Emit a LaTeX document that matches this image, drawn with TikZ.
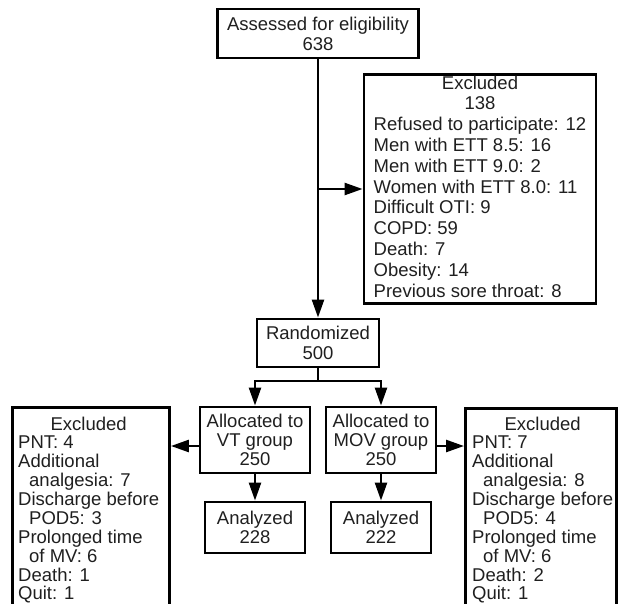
\documentclass[tikz,border=0pt]{standalone}
\usepackage{fontspec}
\setmainfont{Liberation Sans}
\usetikzlibrary{arrows.meta,calc}
\definecolor{txt}{gray}{0.12}
\begin{document}
\begin{tikzpicture}[x=1pt,y=-1pt,
  box/.style={draw, line width=2.9pt, inner sep=0pt, text=txt,
    font=\fontsize{18.5}{19}\selectfont, align=center},
  frame/.style={draw, line width=2.9pt, inner sep=0pt},
  sidetext/.style={inner sep=0pt, anchor=base west, text=txt,
    font=\fontsize{18.5}{18.45}\selectfont},
  conn/.style={line width=2.5pt},
  arr/.style={conn, -{Triangle[length=18pt,width=12pt]}},
]
\useasboundingbox (0,0) rectangle (619,603);

\node[box, minimum width=201pt, minimum height=49pt,
  font=\fontsize{18.5}{20}\selectfont] (assess) at (318,33.5)
  {Assessed for eligibility\\638};

\node[box, minimum width=232pt, minimum height=222pt,
  font=\fontsize{18.5}{20.8}\selectfont] (excl1) at (480,189)
  {\begin{tabular}{@{}l@{}}
   \multicolumn{1}{@{}c@{}}{Excluded}\\
   \multicolumn{1}{@{}c@{}}{138}\\
   Refused to participate: 12\\
   Men with ETT 8.5: 16\\
   Men with ETT 9.0: 2\\
   Women with ETT 8.0: 11\\
   Difficult OTI: 9\\
   COPD: 59\\
   Death: 7\\
   Obesity: 14\\
   Previous sore throat: 8
   \end{tabular}};

\node[box, minimum width=122pt, minimum height=48pt,
  font=\fontsize{18.5}{20}\selectfont] (rand) at (318,343) {Randomized\\500};

\node[box, minimum width=110pt, minimum height=66pt] (vt) at (255,440)
  {Allocated to\\VT group\\250};
\node[box, minimum width=110pt, minimum height=66pt] (mov) at (381,440)
  {Allocated to\\MOV group\\250};

\node[box, minimum width=100pt, minimum height=51pt] (an1) at (255,527.5)
  {Analyzed\\228};
\node[box, minimum width=100pt, minimum height=51pt] (an2) at (381,527.5)
  {Analyzed\\222};

\node[frame, anchor=north west, minimum width=157pt, minimum height=230pt]
  (exL) at (11,406) {};
\node[frame, anchor=north west, minimum width=151pt, minimum height=230pt]
  (exR) at (464,407) {};

\node[sidetext] (exLt) at (18,430.5)
  {\begin{tabular}[t]{@{}l@{}}
   \multicolumn{1}{@{}c@{}}{Excluded}\\
   PNT: 4\\
   Additional\\
   \hspace*{11pt}analgesia: 7\\
   Discharge before\\
   \hspace*{11pt}POD5: 3\\
   Prolonged time\\
   \hspace*{11pt}of MV: 6\\
   Death: 1\\
   Quit: 1
   \end{tabular}};
\node[sidetext] (exRt) at (472,430.5)
  {\begin{tabular}[t]{@{}l@{}}
   \multicolumn{1}{@{}c@{}}{Excluded}\\
   PNT: 7\\
   Additional\\
   \hspace*{11pt}analgesia: 8\\
   Discharge before\\
   \hspace*{11pt}POD5: 4\\
   Prolonged time\\
   \hspace*{11pt}of MV: 6\\
   Death: 2\\
   Quit: 1
   \end{tabular}};

\coordinate (split) at (318,381);
\draw[arr] (assess.south) -- (rand.north);
\draw[arr] (assess.south |- excl1.west) -- (excl1.west);
\draw[conn] (rand.south) -- (split);
\draw[arr] (split) -| (vt.north);
\draw[arr] (split) -| (mov.north);
\draw[arr] (vt.south) -- (an1.north);
\draw[arr] (mov.south) -- (an2.north);
\draw[arr] ([yshift=-6pt]vt.west) -- ([yshift=-6pt]vt.west -| exL.east);
\draw[arr] ([yshift=-6pt]mov.east) -- ([yshift=-6pt]mov.east -| exR.west);
\end{tikzpicture}
\end{document}
